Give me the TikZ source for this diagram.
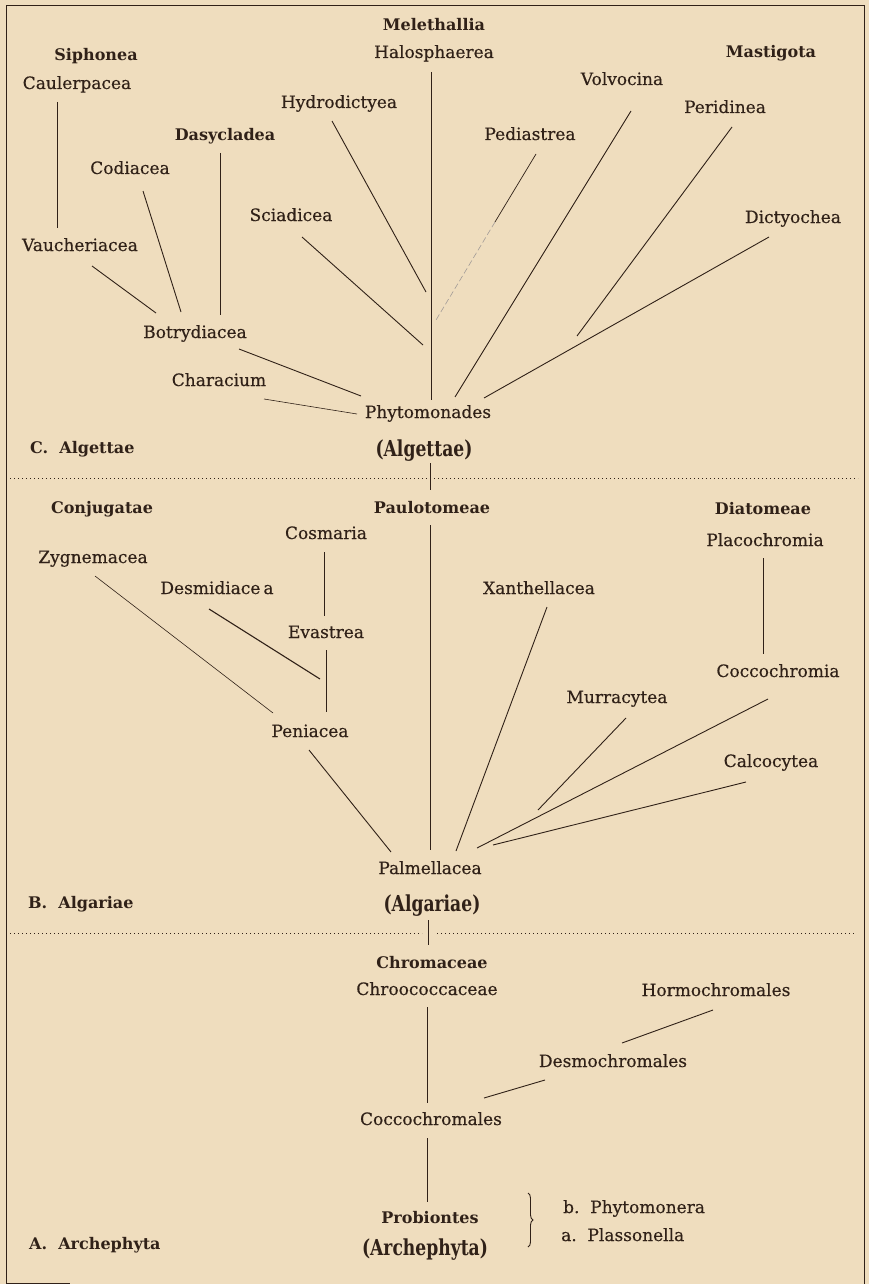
\documentclass[tikz,border=0pt]{standalone}
\usepackage{fontspec}
\setmainfont{DejaVu Serif}
\newfontfamily\labfont{DejaVu Serif}[FakeBold=0.35]
\newfontfamily\condfont{DejaVu Serif}[FakeStretch=0.78]
\usetikzlibrary{decorations.pathreplacing}
\definecolor{paper}{RGB}{239,221,190}
\definecolor{ink}{RGB}{48,33,24}
\begin{document}
\begin{tikzpicture}[x=1pt,y=-1pt,
  lab/.style={text=ink,font=\fontsize{17}{19}\labfont,inner sep=0pt,anchor=base},
  hd/.style={text=ink,font=\fontsize{16}{18}\selectfont\bfseries,inner sep=0pt,anchor=base},
  big/.style={text=ink,font=\fontsize{22}{24}\selectfont\condfont\bfseries,inner sep=0pt,anchor=base},
  ln/.style={draw=ink,line width=0.9pt},
  faint/.style={draw=ink!45,line width=0.6pt,dash pattern=on 6pt off 3pt},
  dotline/.style={draw=ink,line width=0.9pt,dash pattern=on 1.4pt off 2.6pt}]
\fill[paper] (0,0) rectangle (869,1284);
\useasboundingbox (0,0) rectangle (869,1284);
% frame
\draw[ln] (6,1284) -- (6,5) -- (864,5) -- (864,1284);
\draw[ln] (6,1283) -- (70,1283);

% ---------- C. Algettae ----------
\node[hd]  (mel)   at (434,31)  {Melethallia};
\node[lab] (halo)  at (434,58)  {Halosphaerea};
\node[hd]  (siph)  at (96,61)   {Siphonea};
\node[lab] (caul)  at (77,89)   {Caulerpacea};
\node[hd]  (mast)  at (771,58)  {Mastigota};
\node[lab] (volv)  at (622,85)  {Volvocina};
\node[lab] (peri)  at (725,113) {Peridinea};
\node[lab] (pedi)  at (530,140) {Pediastrea};
\node[lab] (hydro) at (339,108) {Hydrodictyea};
\node[hd]  (dasy)  at (225,141) {Dasycladea};
\node[lab] (codi)  at (130,174) {Codiacea};
\node[lab] (sciad) at (291,221) {Sciadicea};
\node[lab] (dicty) at (793,223) {Dictyochea};
\node[lab] (vauch) at (80,251)  {Vaucheriacea};
\node[lab] (botry) at (195,338) {Botrydiacea};
\node[lab] (chara) at (219,386) {Characium};
\node[lab] (phyto) at (428,418) {Phytomonades};
\node[hd,anchor=base west] (secC) at (30,453) {C.\ \ Algettae};
\node[big] (algettae) at (424,456) {(Algettae)};

\coordinate (caulS) at (57,102);   \coordinate (caulE) at (57,228);
\coordinate (vauchS) at (92,266);  \coordinate (vauchE) at (156,313);
\coordinate (codiS) at (143,191);  \coordinate (codiE) at (181,312);
\coordinate (dasyS) at (220,153);  \coordinate (dasyE) at (220,315);
\coordinate (haloS) at (431,72);   \coordinate (haloE) at (431,400);
\coordinate (hydroS) at (332,121); \coordinate (hydroE) at (426,292);
\coordinate (sciadS) at (302,237); \coordinate (sciadE) at (423,345);
\coordinate (pediS) at (536,154);  \coordinate (pediM) at (495,222); \coordinate (pediE) at (436,320);
\coordinate (volvS) at (631,111);  \coordinate (volvE) at (455,397);
\coordinate (periS) at (732,127);  \coordinate (periE) at (577,336);
\coordinate (dictyS) at (769,237); \coordinate (dictyE) at (484,398);
\coordinate (botryS) at (239,349); \coordinate (botryE) at (361,396);
\coordinate (charaS) at (264,399); \coordinate (charaE) at (357,414);

\draw[ln] (caulS) -- (caulE);
\draw[ln] (vauchS) -- (vauchE);
\draw[ln] (codiS) -- (codiE);
\draw[ln] (dasyS) -- (dasyE);
\draw[ln] (haloS) -- (haloE);
\draw[ln] (hydroS) -- (hydroE);
\draw[ln] (sciadS) -- (sciadE);
\draw[ln,line width=0.7pt] (pediS) -- (pediM);
\draw[faint] (pediM) -- (pediE);
\draw[ln] (volvS) -- (volvE);
\draw[ln] (periS) -- (periE);
\draw[ln] (dictyS) -- (dictyE);
\draw[ln] (botryS) -- (botryE);
\draw[ln,line width=0.6pt] (charaS) -- (charaE);

% separator C/B
\coordinate (tickC1) at (430,463); \coordinate (tickC2) at (430,490);
\draw[ln,line width=0.6pt] (tickC1) -- (tickC2);
\draw[dotline] (10,478) -- (427,478);
\draw[dotline] (434,478) -- (858,478);

% ---------- B. Algariae ----------
\node[hd]  (conj)  at (102,513) {Conjugatae};
\node[hd]  (paulo) at (432,513) {Paulotomeae};
\node[hd]  (diat)  at (763,514) {Diatomeae};
\node[lab] (cosm)  at (326,539) {Cosmaria};
\node[lab] (plac)  at (765,546) {Placochromia};
\node[lab] (zygn)  at (93,563)  {Zygnemacea};
\node[lab] (desm)  at (217,594) {Desmidiace\hspace{3pt}a};
\node[lab] (xanth) at (539,594) {Xanthellacea};
\node[lab] (evas)  at (326,638) {Evastrea};
\node[lab] (cocc)  at (778,677) {Coccochromia};
\node[lab] (murr)  at (617,703) {Murracytea};
\node[lab] (peni)  at (310,737) {Peniacea};
\node[lab] (calc)  at (771,767) {Calcocytea};
\node[lab] (palm)  at (430,874) {Palmellacea};
\node[hd,anchor=base west] (secB) at (28,908) {B.\ \ Algariae};
\node[big] (algariae) at (432,911) {(Algariae)};

\coordinate (cosmS) at (324,552);  \coordinate (cosmE) at (324,616);
\coordinate (zygnS) at (95,576);   \coordinate (zygnE) at (273,713);
\coordinate (desmS) at (209,609);  \coordinate (desmE) at (320,679);
\coordinate (evasS) at (326,650);  \coordinate (evasE) at (326,712);
\coordinate (pauloS) at (430,525); \coordinate (pauloE) at (430,850);
\coordinate (peniS) at (309,750);  \coordinate (peniE) at (391,852);
\coordinate (xanthS) at (547,607); \coordinate (xanthE) at (456,851);
\coordinate (murrS) at (626,718);  \coordinate (murrE) at (538,810);
\coordinate (placS) at (763,558);  \coordinate (placE) at (763,654);
\coordinate (coccS) at (768,699);  \coordinate (coccE) at (477,848);
\coordinate (calcS) at (746,782);  \coordinate (calcE) at (493,845);

\draw[ln,line width=0.6pt] (cosmS) -- (cosmE);
\draw[ln,line width=0.6pt] (zygnS) -- (zygnE);
\draw[ln,line width=1.1pt] (desmS) -- (desmE);
\draw[ln,line width=0.6pt] (evasS) -- (evasE);
\draw[ln] (pauloS) -- (pauloE);
\draw[ln] (peniS) -- (peniE);
\draw[ln] (xanthS) -- (xanthE);
\draw[ln] (murrS) -- (murrE);
\draw[ln,line width=0.6pt] (placS) -- (placE);
\draw[ln] (coccS) -- (coccE);
\draw[ln] (calcS) -- (calcE);

% separator B/A
\coordinate (tickB1) at (428,920); \coordinate (tickB2) at (428,945);
\draw[ln,line width=0.6pt] (tickB1) -- (tickB2);
\draw[dotline] (10,933) -- (422,933);
\draw[dotline] (437,933) -- (855,933);

% ---------- A. Archephyta ----------
\node[hd]  (chrom) at (432,968)  {Chromaceae};
\node[lab] (chroo) at (427,995)  {Chroococcaceae};
\node[lab] (horm)  at (716,996)  {Hormochromales};
\node[lab] (desmo) at (613,1067) {Desmochromales};
\node[lab] (cocco) at (431,1125) {Coccochromales};
\node[hd]  (prob)  at (430,1223) {Probiontes};
\node[big] (arch)  at (425,1255) {(Archephyta)};
\node[hd,anchor=base west] (secA) at (29,1249) {A.\ \ Archephyta};
\node[lab,anchor=base west] (phmon) at (563,1213) {b.\ \ Phytomonera};
\node[lab,anchor=base west] (plass) at (561,1241) {a.\ \ Plassonella};

\coordinate (hormS) at (713,1010);  \coordinate (hormE) at (622,1043);
\coordinate (desmoS) at (545,1080); \coordinate (desmoE) at (484,1098);
\coordinate (chrooS) at (427,1007); \coordinate (chrooE) at (427,1103);
\coordinate (coccoS) at (427,1138); \coordinate (coccoE) at (427,1202);
\coordinate (braceT) at (528,1193); \coordinate (braceB) at (528,1247);

\draw[ln] (hormS) -- (hormE);
\draw[ln] (desmoS) -- (desmoE);
\draw[ln,line width=0.6pt] (chrooS) -- (chrooE);
\draw[ln,line width=0.6pt] (coccoS) -- (coccoE);
\draw[ln,decorate,decoration={brace,amplitude=5pt}] (braceT) -- (braceB);
\end{tikzpicture}
\end{document}
